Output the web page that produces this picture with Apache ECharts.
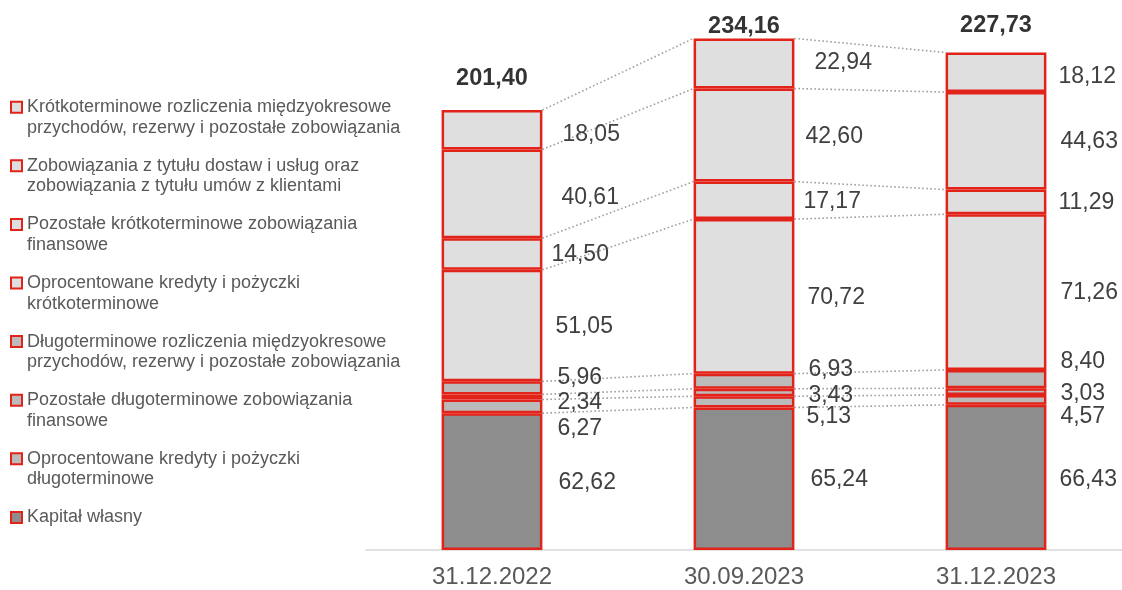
<!DOCTYPE html>
<html>
<head>
<meta charset="utf-8">
<script src="https://cdn.jsdelivr.net/npm/echarts@6/dist/echarts.min.js"></script>
<style>
html,body{margin:0;padding:0;background:#fff;}
#chart{width:1122px;height:590px;}
</style>
</head>
<body>
<div id="chart"></div>
<script>
// ---- data ----
const categories = ['31.12.2022', '30.09.2023', '31.12.2023'];
// series from bottom of stack to top
const seriesNames = [
  'Kapitał własny',
  'Oprocentowane kredyty i pożyczki\ndługoterminowe',
  'Pozostałe długoterminowe zobowiązania\nfinansowe',
  'Długoterminowe rozliczenia międzyokresowe\nprzychodów, rezerwy i pozostałe zobowiązania',
  'Oprocentowane kredyty i pożyczki\nkrótkoterminowe',
  'Pozostałe krótkoterminowe zobowiązania\nfinansowe',
  'Zobowiązania z tytułu dostaw i usług oraz\nzobowiązania z tytułu umów z klientami',
  'Krótkoterminowe rozliczenia międzyokresowe\nprzychodów, rezerwy i pozostałe zobowiązania'
];
const kapitalWlasny        = [62.62, 65.24, 66.43];
const kredytyDlugo         = [6.27, 5.13, 4.57];
const pozostaleDlugo       = [2.34, 3.43, 3.03];
const rozliczeniaDlugo     = [5.96, 6.93, 8.40];
const kredytyKrotko        = [51.05, 70.72, 71.26];
const pozostaleKrotko      = [14.50, 17.17, 11.29];
const zobowiazaniaDostawy  = [40.61, 42.60, 44.63];
const rozliczeniaKrotko    = [18.05, 22.94, 18.12];
const totals               = [201.40, 234.16, 227.73];

const seriesValues = [kapitalWlasny, kredytyDlugo, pozostaleDlugo, rozliczeniaDlugo,
  kredytyKrotko, pozostaleKrotko, zobowiazaniaDostawy, rozliczeniaKrotko];

// ---- styling ----
const RED = '#e2231a';
const LIGHT = '#dfdfdf', MID = '#bbbbbb', DARK = '#8d8d8d';
const fills = [DARK, MID, MID, MID, LIGHT, LIGHT, LIGHT, LIGHT];
// label offsets [dx, dy] per series (bottom-up), per category
const labelOffsets = [
  [[16, 1.5], [16, 1], [13, 2.5]],
  [[15, 22], [12, 15], [14, 17]],
  [[15, 6], [14, 3.5], [14, 2]],
  [[15, -10], [14, -12], [14, -17]],
  [[13, 1], [13, 1.5], [14, 0.5]],
  [[9, 1], [9, 1], [12, 1]],
  [[19, 4], [11, 2], [14, 1]],
  [[20, 5], [20, -1], [12, 4]]
];
const totalOffsets = [[0, 0], [0, 19], [0, 4]];
const FONT = '"Liberation Sans", Arial, sans-serif';
const fmt = v => v.toFixed(2).replace('.', ',');

const series = seriesValues.map((vals, s) => ({
  name: seriesNames[s],
  type: 'bar',
  stack: 'total',
  barWidth: '40%',
  itemStyle: { color: fills[s], borderColor: RED, borderWidth: 2.5 },
  emphasis: { disabled: true },
  label: {
    show: true, position: 'right', distance: 0,
    color: '#404040', fontSize: 23, fontFamily: FONT,
    formatter: p => fmt(p.value)
  },
  z: 3,
  data: vals.map((v, c) => ({ value: v, label: { offset: labelOffsets[s][c] } }))
}));

// dotted connectors between adjacent bars at each stack boundary
series.push({
  type: 'custom',
  name: '_conn',
  silent: true,
  z: 1,
  data: categories.slice(0, -1).map((_, i) => [i]),
  renderItem: function (params, api) {
    const i = api.value(0);
    const bw = api.size([1, 0])[0] * 0.4;
    const children = [];
    let cumA = 0, cumB = 0;
    for (let s = 0; s < seriesValues.length; s++) {
      cumA += seriesValues[s][i];
      cumB += seriesValues[s][i + 1];
      const pA = api.coord([i, cumA]);
      const pB = api.coord([i + 1, cumB]);
      children.push({
        type: 'line',
        shape: { x1: pA[0] + bw / 2, y1: pA[1], x2: pB[0] - bw / 2, y2: pB[1] },
        style: { stroke: '#a0a0a0', lineWidth: 1.6, lineDash: [1.6, 2.4] }
      });
    }
    return { type: 'group', children: children };
  }
});

// totals above bars
series.push({
  type: 'scatter',
  name: '_total',
  symbolSize: 0,
  silent: true,
  data: totals.map((v, c) => ({ value: [c, v], label: { offset: totalOffsets[c] } })),
  label: {
    show: true, position: 'top', distance: 19,
    color: '#000', fontWeight: 'bold', fontSize: 23.5, fontFamily: FONT,
    formatter: p => fmt(p.value[1])
  },
  z: 5
});

const legendData = seriesNames.slice().reverse();

const chart = echarts.init(document.getElementById('chart'), null, { renderer: 'canvas' });
chart.setOption({
  animation: false,
  backgroundColor: '#fff',
  grid: { left: 366, width: 757, top: 3.82, bottom: 40, containLabel: false },
  legend: {
    orient: 'vertical', left: 10, top: 76.3, padding: 0,
    itemWidth: 11, itemHeight: 11, itemGap: -3.2,
    icon: 'rect', selectedMode: false,
    itemStyle: { borderColor: RED, borderWidth: 2 },
    textStyle: { color: '#595959', fontSize: 18, lineHeight: 20.6, fontFamily: FONT },
    // blank lines keep the marker level with the first text line
    formatter: name => name.indexOf('\n') >= 0 ? '\n' + name : '\n' + name + '\n',
    data: legendData
  },
  xAxis: {
    type: 'category', data: categories,
    axisLine: { lineStyle: { color: '#d9d9d9', width: 1.5 } },
    axisTick: { show: false },
    axisLabel: { color: '#595959', fontSize: 24, fontFamily: FONT, margin: 15 }
  },
  yAxis: { type: 'value', min: 0, max: 250, show: false, splitLine: { show: false } },
  series: series
});
</script>
</body>
</html>
